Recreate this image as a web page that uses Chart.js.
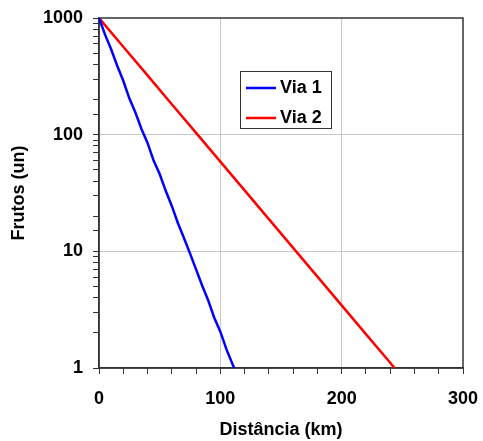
<!DOCTYPE html>
<html>
<head>
<meta charset="utf-8">
<style>
  html, body { margin: 0; padding: 0; background: #fff; }
  #wrap { width: 483px; height: 441px; }
</style>
</head>
<body>
<div id="wrap"><canvas id="myChart" width="483" height="441"></canvas></div>
<script src="https://cdn.jsdelivr.net/npm/chart.js@4.4.1/dist/chart.umd.min.js"></script>
<script>
    // data
    const via1Dist = [0, 5, 10, 15, 20, 25, 30, 35, 40, 45, 50, 55, 60, 65, 70, 75, 80, 85, 90, 95, 100, 105, 110, 111.4]
    const via1Frutos = [1000, 720, 540, 390, 290, 205, 155, 112, 85, 60, 46, 33, 24.5, 17.5, 13, 9.6, 7, 5.1, 3.8, 2.7, 2.05, 1.45, 1.08, 1]
    const via2Dist = [0, 20, 40, 60, 80, 100, 120, 140, 160, 180, 200, 220, 240, 243.6]
    const via2Frutos = [1000, 567, 322, 182.5, 103.5, 58.7, 33.3, 18.9, 10.7, 6.07, 3.44, 1.95, 1.11, 1]
    const seriesNames = ['Via 1', 'Via 2']
    const xMajorTicks = [0, 100, 200, 300]
    const yMajorTicks = [1, 10, 100, 1000]

    const font = { family: '"Liberation Sans", Arial, sans-serif', size: 18, weight: 'bold' }

    // draws the box round the plot area
    const frame = {
        id: 'frame',
        beforeDatasetsDraw(chart) {
            const a = chart.chartArea, c = chart.ctx
            c.save()
            c.strokeStyle = '#333'
            c.lineWidth = 1.5
            c.strokeRect(a.left, a.top, a.right - a.left, a.bottom - a.top)
            c.restore()
        }
    }

    // legend box inside the plot
    const boxLegend = {
        id: 'boxLegend',
        afterDatasetsDraw(chart) {
            const c = chart.ctx
            const x = 240, y = 71, w = 91, h = 57
            c.save()
            c.fillStyle = '#fff'
            c.fillRect(x, y, w, h)
            c.strokeStyle = '#333'
            c.lineWidth = 1
            c.strokeRect(x + 0.5, y + 0.5, w, h)
            c.font = 'bold 18px "Liberation Sans", Arial, sans-serif'
            c.textBaseline = 'middle'
            chart.data.datasets.forEach((ds, i) => {
                const ly = y + 17 + i * 30
                c.strokeStyle = ds.borderColor
                c.lineWidth = 2.5
                c.beginPath()
                c.moveTo(x + 6, ly)
                c.lineTo(x + 36, ly)
                c.stroke()
                c.fillStyle = '#000'
                c.fillText(ds.label, x + 40, ly)
            })
            c.restore()
        }
    }

    const ctx = document.getElementById('myChart')
    const myChart = new Chart(ctx, {
        type: 'line',
        data: {
            datasets: [{
                label: seriesNames[0],
                data: via1Dist.map((d, i) => ({ x: d, y: via1Frutos[i] })),
                borderColor: '#0000ff',
                borderWidth: 2.5,
                pointRadius: 0,
                tension: 0
            }, {
                label: seriesNames[1],
                data: via2Dist.map((d, i) => ({ x: d, y: via2Frutos[i] })),
                borderColor: '#ff0000',
                borderWidth: 2.5,
                pointRadius: 0,
                tension: 0
            }]
        },
        options: {
            responsive: false,
            animation: false,
            layout: { padding: { top: 18, right: 20, left: 0, bottom: 0 } },
            plugins: {
                legend: { display: false },
                tooltip: { enabled: false }
            },
            scales: {
                x: {
                    type: 'linear',
                    min: 0,
                    max: 300,
                    ticks: {
                        stepSize: 20,
                        autoSkip: false,
                        maxRotation: 0,
                        padding: 14,
                        color: '#000',
                        font: font,
                        callback: v => xMajorTicks.includes(v) ? v : ''
                    },
                    grid: {
                        color: c => (c.tick && (c.tick.value === 100 || c.tick.value === 200)) ? '#c8c8c8' : 'rgba(0,0,0,0)',
                        tickColor: '#333',
                        tickLength: 6,
                        lineWidth: 1
                    },
                    border: { color: '#333', width: 1.5 },
                    title: {
                        display: true,
                        text: 'Distância (km)',
                        color: '#000',
                        font: font,
                        padding: { top: 0, bottom: 0 }
                    },
                    afterFit: s => { s.height = 73; s.paddingLeft = 0; s.paddingRight = 0 }
                },
                y: {
                    type: 'logarithmic',
                    min: 1,
                    max: 1000,
                    ticks: {
                        autoSkip: false,
                        padding: 10,
                        color: '#000',
                        font: font,
                        callback: v => yMajorTicks.includes(v) ? v : ''
                    },
                    grid: {
                        color: c => (c.tick && (c.tick.value === 10 || c.tick.value === 100)) ? '#c8c8c8' : 'rgba(0,0,0,0)',
                        tickColor: '#333',
                        tickLength: 6,
                        lineWidth: 1
                    },
                    border: { color: '#333', width: 1.5 },
                    title: {
                        display: true,
                        text: 'Frutos (un)',
                        color: '#000',
                        font: font,
                        padding: { top: 8, bottom: 0 }
                    },
                    afterFit: s => { s.width = 99; s.paddingTop = 0; s.paddingBottom = 0 }
                }
            }
        },
        plugins: [frame, boxLegend]
    })
</script>
</body>
</html>
